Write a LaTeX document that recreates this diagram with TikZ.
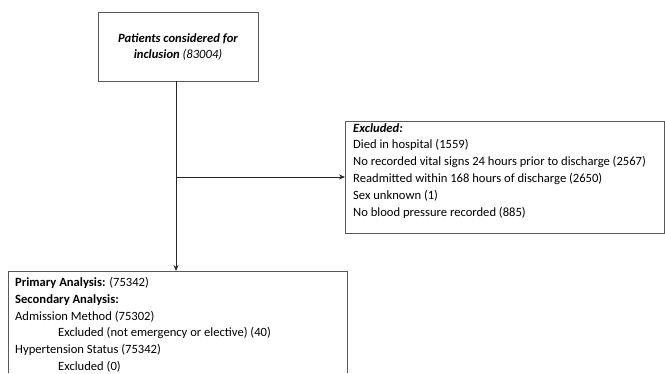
\documentclass[tikz,border=0pt]{standalone}
\usepackage{fontspec}
\setmainfont{Carlito}
\usetikzlibrary{arrows.meta}
\begin{document}
\begin{tikzpicture}[x=1pt,y=-1pt,
  boxstyle/.style={draw=black!65,line width=0.7pt},
  conn/.style={draw=black!85,line width=0.9pt},
  arr/.style={conn,-{Stealth[length=6pt,width=5pt]}},
  txt/.style={font=\fontsize{12.6}{16.8}\selectfont,align=left,inner sep=0pt,anchor=north west}]
\useasboundingbox (0,0) rectangle (665,373);
\draw[boxstyle] (98,12) rectangle (258,81);
\node[font=\fontsize{12.6}{16.8}\selectfont,align=center,inner sep=0pt] (top) at (178,47)
  {\textbf{\textit{Patients considered for}}\\\textbf{\textit{inclusion}} \textit{(83004)}};
\coordinate (topb) at (176,81);
\draw[boxstyle] (345,121) rectangle (664,233);
\coordinate (exl) at (345,177);
\node[txt] (exc) at (353,123) {\textbf{\textit{Excluded:}}\\
Died in hospital (1559)\\
No recorded vital signs 24 hours prior to discharge (2567)\\
Readmitted within 168 hours of discharge (2650)\\
Sex unknown (1)\\
No blood pressure recorded (885)};
\draw[boxstyle] (347,373) -- (347,271) -- (8,271) -- (8,373);
\coordinate (bott) at (176,271);
\node[txt] (main) at (15,277) {\textbf{Primary Analysis:} (75342)\\
\textbf{Secondary Analysis:}\\
Admission Method (75302)\\
\hspace*{43pt}Excluded (not emergency or elective) (40)\\
Hypertension Status (75342)\\
\hspace*{43pt}Excluded (0)};
\coordinate (mid) at (176,177);
\draw[arr] (topb) -- (bott);
\draw[arr] (mid) -- (exl);
\end{tikzpicture}
\end{document}
